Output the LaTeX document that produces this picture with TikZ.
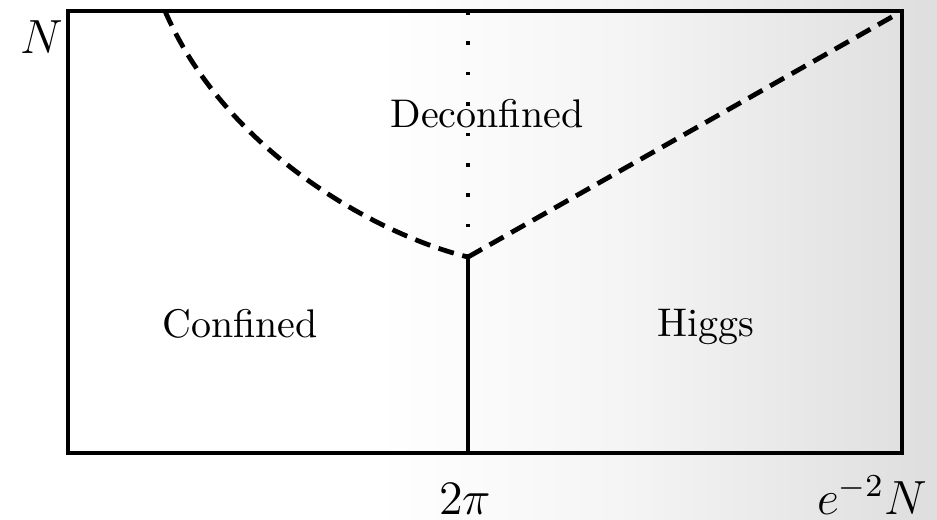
\documentclass[tikz,border=0pt]{standalone}
\pgfdeclarehorizontalshading{bgshade}{100bp}{color(0bp)=(white); color(45bp)=(white); color(58bp)=(black!4); color(75bp)=(black!13); color(100bp)=(black!13)}
\begin{document}
\begin{tikzpicture}[x=0.25pt,y=-0.25pt,
  border/.style={line width=1.1pt},
  solidline/.style={line width=1pt},
  dashline/.style={line width=1.2pt, dash pattern=on 4pt off 2.2pt},
  dotline/.style={line width=1pt, dash pattern=on 0.9pt off 6.7pt},
  region/.style={font=\fontsize{10}{12}\selectfont, anchor=base, inner sep=0pt},
  axislabel/.style={anchor=base, inner sep=0pt}]
\useasboundingbox (0,0) rectangle (937,519);
\shade[shading=bgshade] (0,0) rectangle (937,519);
\coordinate (TL) at (68,11);
\coordinate (BR) at (902,453);
\coordinate (T) at (468,11);
\coordinate (J) at (468,257);
\coordinate (B) at (468,453);
\coordinate (C0) at (165,11);
\coordinate (R0) at (897,14);
\draw[dotline] (T) -- (J);
\draw[solidline] (J) -- (B);
\draw[dashline] (C0) .. controls (225,150) and (375,234) .. (J);
\draw[dashline] (J) -- (R0);
\draw[border] (TL) rectangle (BR);
\node[region] (dec) at (487,127) {Deconfined};
\node[region] (conf) at (240,337) {Confined};
\node[region] (higgs) at (706,336) {Higgs};
\node[axislabel, font=\fontsize{13}{15}\selectfont] (ny) at (42,53) {$N$};
\node[axislabel, font=\fontsize{12}{14}\selectfont] (twopi) at (465,514) {$2\pi$};
\node[axislabel, font=\fontsize{12}{14}\selectfont] (nx) at (872,514) {$e^{-2}N$};
\end{tikzpicture}
\end{document}
